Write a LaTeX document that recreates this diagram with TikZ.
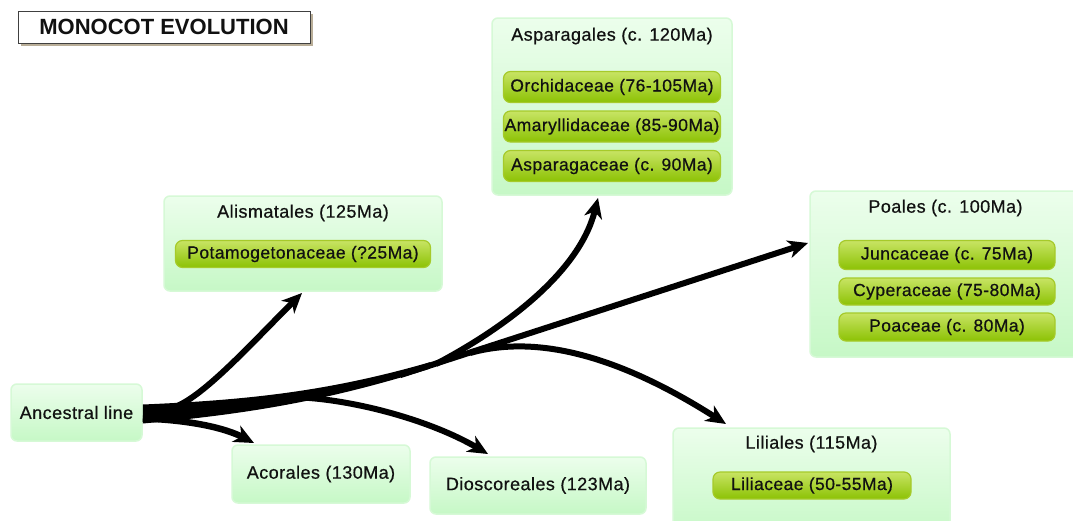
\documentclass[tikz,border=0pt]{standalone}
\usepackage{fontspec}
\setmainfont{Liberation Sans}
\newfontfamily\lblfont{Liberation Sans}[FakeBold=0.6, LetterSpace=2.5]
\usetikzlibrary{arrows.meta,shadows}
\definecolor{boxtop}{HTML}{ECFEEC}
\definecolor{boxbot}{HTML}{C6F8C6}
\definecolor{boxedge}{HTML}{D6F9D6}
\definecolor{pilltop}{HTML}{C8E464}
\definecolor{pillbot}{HTML}{8CC204}
\definecolor{pilledge}{HTML}{A6CA2A}
\definecolor{shadowc}{HTML}{B9AE98}
\definecolor{ink}{HTML}{111111}
\begin{document}
\begin{tikzpicture}[x=1pt,y=-1pt,
  grp/.style={draw=boxedge, line width=1.5pt, rounded corners=6pt, top color=boxtop, bottom color=boxbot, inner sep=0pt},
  pill/.style={draw=pilledge, line width=1.2pt, rounded corners=7pt, top color=pilltop, bottom color=pillbot, font=\lblfont\fontsize{17.5}{20}\selectfont, text=ink, inner sep=0pt},
  lbl/.style={font=\lblfont\fontsize{18}{21}\selectfont, text=ink, inner sep=0pt},
  branch/.style={line width=6pt, -{Stealth[length=20pt,width=18pt,inset=6pt]}},
]
\clip (0,0) rectangle (1073,520);
\fill[white] (0,0) rectangle (1073,520);

% title
\node[draw=black!75, line width=1pt, fill=white, minimum width=292, minimum height=32, inner sep=0pt,
  drop shadow={fill=shadowc, opacity=1, shadow xshift=3pt, shadow yshift=-3pt},
  font=\bfseries\fontsize{22}{26}\selectfont, text=ink] (title) at (164,27) {MONOCOT EVOLUTION};

% group boxes
\node[grp, minimum width=131, minimum height=57, lbl] (anc) at (76.5,412.5) {Ancestral line};
\node[grp, minimum width=178, minimum height=58, lbl] (aco) at (321,474) {\raisebox{-2pt}{Acorales (130Ma)}};
\node[grp, minimum width=216, minimum height=57, lbl] (dio) at (538,485.5) {\raisebox{-2pt}{Dioscoreales (123Ma)}};

\node[grp, minimum width=278, minimum height=95] (ali) at (303,243.5) {};
\node[lbl] (aliT) at (303,213) {Alismatales (125Ma)};
\node[pill, minimum width=255, minimum height=27] (pot) at (303,254) {Potamogetonaceae (?25Ma)};

\node[grp, minimum width=240, minimum height=177] (asp) at (612,106.5) {};
\node[lbl] (aspT) at (612,36) {Asparagales (c. 120Ma)};
\node[pill, minimum width=217, minimum height=31] (orc) at (612,87) {Orchidaceae (76-105Ma)};
\node[pill, minimum width=217, minimum height=31] (ama) at (612,126.5) {Amaryllidaceae (85-90Ma)};
\node[pill, minimum width=217, minimum height=31] (aspc) at (612,166) {Asparagaceae (c. 90Ma)};

\node[grp, minimum width=271, minimum height=166] (poa) at (945.5,274) {};
\node[lbl] (poaT) at (945.5,208) {Poales (c. 100Ma)};
\node[pill, minimum width=216, minimum height=29] (jun) at (947,255) {Juncaceae (c. 75Ma)};
\node[pill, minimum width=216, minimum height=27] (cyp) at (947,291.5) {Cyperaceae (75-80Ma)};
\node[pill, minimum width=216, minimum height=28] (poac) at (947,327) {Poaceae (c. 80Ma)};

\node[grp, minimum width=277, minimum height=110] (lil) at (811.5,483) {};
\node[lbl] (lilT) at (811.5,444) {Liliales (115Ma)};
\node[pill, minimum width=198, minimum height=27] (lila) at (812,485.5) {Liliaceae (50-55Ma)};

% junctions and tips
\coordinate (s0) at (anc.east);
\coordinate (jPoa) at (400,375.2);
\coordinate (jAsp) at (436,364);
\coordinate (jLil) at (470,353);
\coordinate (jDio) at (290,397);
\coordinate (jAli) at (175,407);
\coordinate (tPoa) at (808,243);
\coordinate (tAsp) at (598,198);
\coordinate (tLil) at (726,424);
\coordinate (tDio) at (488,454);
\coordinate (tAli) at (302,293);
\coordinate (tAco) at (254,443);

% trunk
\fill[black] ([shift={(0,-8)}]s0) .. controls (250,400) and (330,391) .. (430,362.2)
  -- (430,368.6) .. controls (330,400) and (250,414) .. ([shift={(0,11)}]s0) -- cycle;

% branches
\draw[branch] (jPoa) -- (tPoa);
\draw[branch] (jAsp) .. controls (510,325) and (580,270) .. (tAsp);
\draw[branch] (jLil) .. controls (530,336) and (610,350) .. (tLil);
\draw[branch] (jDio) .. controls (350,398) and (430,420) .. (tDio);
\draw[branch] (jAli) .. controls (205,395) and (250,345) .. (tAli);
\draw[branch, line width=6.5pt] ([shift={(0,6)}]s0) .. controls (190,420) and (225,428) .. (tAco);
\end{tikzpicture}
\end{document}
